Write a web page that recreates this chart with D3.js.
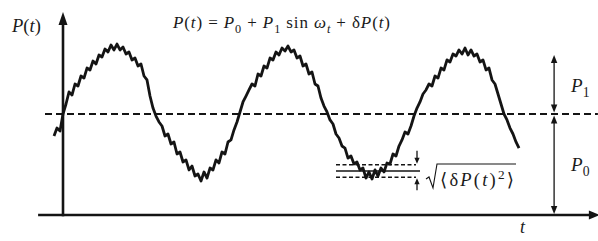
<!DOCTYPE html>
<html><head><meta charset="utf-8">
<script src="https://cdn.jsdelivr.net/npm/d3@7"></script>
<style>
html,body{margin:0;padding:0;background:#fff;}
svg{display:block;}
</style></head><body>
<svg id="chart" width="598" height="241"></svg>
<script>
// ---- data ----
const sampleStart = -3;   // time of first sample (arbitrary units)
const sampleStep = 1;
const pressure = [
  7.82, 8.61, 8.32, 10.00, 10.99, 12.18, 11.88, 12.97, 12.77, 13.76,
  13.56, 14.55, 14.36, 15.25, 14.95, 15.84, 15.64, 16.44, 16.14, 16.83,
  16.34, 16.93, 16.34, 16.63, 15.94, 16.14, 15.35, 15.54, 14.75, 14.95,
  13.76, 13.37, 11.78, 10.59, 9.80, 9.21, 8.81, 7.82, 8.02, 7.03,
  7.23, 6.04, 6.24, 5.25, 5.45, 4.46, 4.85, 3.86, 4.06, 3.37,
  4.26, 3.66, 4.65, 4.46, 5.45, 5.15, 6.24, 6.04, 7.23, 7.43,
  8.42, 9.21, 10.20, 11.19, 11.78, 12.38, 12.97, 12.77, 13.96, 13.76,
  14.75, 14.55, 15.54, 15.35, 16.14, 15.84, 16.53, 16.24, 16.73, 16.14,
  16.34, 15.54, 15.74, 14.75, 14.95, 13.96, 14.16, 12.97, 12.77, 11.58,
  10.79, 10.20, 9.41, 9.01, 8.02, 7.62, 6.83, 6.63, 5.64, 5.84,
  5.05, 5.25, 4.46, 4.65, 3.66, 4.26, 3.56, 4.46, 3.86, 4.65,
  4.26, 5.15, 5.05, 6.04, 5.84, 6.83, 7.43, 8.22, 8.02, 8.81,
  9.80, 10.59, 11.19, 11.98, 12.38, 12.97, 12.77, 13.76, 13.56, 14.55,
  14.36, 15.35, 15.15, 15.94, 15.74, 16.34, 15.94, 16.53, 15.84, 16.34,
  15.74, 15.94, 15.15, 15.35, 14.36, 14.55, 13.37, 12.97, 11.98, 10.99,
  10.00, 9.41, 8.61, 8.02, 7.23, 6.63
];
const P0 = 10;              // mean level (dashed line)
const P1 = 5.84;            // oscillation amplitude
const troughLevel = 4.36;   // level of the noise band
const noiseRms = 0.62;      // half width of the noise band
const bandTimes = [91, 119];
const ampArrowTime = 163.7;
const axisRange = { tMin: -8.3, tMax: 178.3, pMax: 20 };
const meanLineStart = -6;
const yLabel = [{t:"P",i:1},{t:"("},{t:"t",i:1},{t:")"}];
const xLabel = [{t:"t",i:1}];
const title = [{t:"P",i:1},{t:"("},{t:"t",i:1},{t:") = "},{t:"P",i:1},{t:"0",sub:1},{t:" + "},
  {t:"P",i:1},{t:"1",sub:1},{t:" sin "},{t:"ω",i:1},{t:"t",i:1,sub:1},{t:" + δ"},{t:"P",i:1},{t:"("},{t:"t",i:1},{t:")"}];
const p1Label = [{t:"P",i:1},{t:"1",sub:1}];
const p0Label = [{t:"P",i:1},{t:"0",sub:1}];
const rmsLabel = [{t:"⟨δ"},{t:"P",i:1},{t:"("},{t:"t",i:1},{t:")"},{t:"2",sup:1},{t:"⟩"}];

// ---- chart ----
const FONT = "'Liberation Serif', 'Times New Roman', Times, 'DejaVu Serif', 'Noto Serif', serif";
const svg = d3.select("#chart");
svg.append("rect").attr("width",598).attr("height",241).attr("fill","#fff");
const x = d3.scaleLinear().domain([0, 180]).range([63, 603]);
const y = d3.scaleLinear().domain([0, 10]).range([215, 114]);
const ink = "#141414";

const series = pressure.map((p, i) => ({ t: sampleStart + i * sampleStep, p }));

function rich(sel, px, py, parts, size, anchor, fitWidth) {
  const txt = sel.append("text").attr("x", px).attr("y", py)
    .attr("font-family", FONT).attr("fill", "#1a1a1a")
    .attr("font-size", size).attr("text-anchor", anchor || "start");
  let off = 0;
  parts.forEach(d => {
    let target = d.sub ? size * 0.3 : d.sup ? -size * 0.4 : 0;
    txt.append("tspan").text(d.t)
      .attr("dy", target - off)
      .attr("font-family", FONT)
      .attr("font-size", (d.sub || d.sup) ? size * 0.72 : size)
      .attr("font-style", d.i ? "italic" : "normal");
    off = target;
  });
  if (fitWidth) txt.attr("textLength", fitWidth).attr("lengthAdjust", "spacing");
  return txt;
}
function head(px, py, dir, len, hw) {
  let pts;
  if (dir === "up") pts = [[px,py],[px-hw,py+len],[px+hw,py+len]];
  else if (dir === "down") pts = [[px,py],[px-hw,py-len],[px+hw,py-len]];
  else pts = [[px,py],[px-len,py-hw],[px-len,py+hw]];
  svg.append("polygon").attr("points", pts.map(p => p.join(",")).join(" ")).attr("fill", ink);
}

// axes
svg.append("line").attr("x1", x(axisRange.tMin)).attr("x2", x(axisRange.tMax) - 6)
  .attr("y1", y(0)).attr("y2", y(0)).attr("stroke", ink).attr("stroke-width", 2.6);
head(x(axisRange.tMax) + 2, y(0), "right", 11, 4.5);
svg.append("line").attr("x1", x(0)).attr("x2", x(0))
  .attr("y1", y(0) + 1.3).attr("y2", y(axisRange.pMax) + 8).attr("stroke", ink).attr("stroke-width", 2.6);
head(x(0), y(axisRange.pMax) - 1, "up", 13, 4.5);

// mean line
svg.append("line").attr("x1", x(meanLineStart)).attr("x2", x(axisRange.tMax))
  .attr("y1", y(P0)).attr("y2", y(P0)).attr("stroke", ink).attr("stroke-width", 2)
  .attr("stroke-dasharray", "7,4");

// signal
svg.append("path").datum(series)
  .attr("d", d3.line().x(d => x(d.t)).y(d => y(d.p)))
  .attr("fill", "none").attr("stroke", ink).attr("stroke-width", 2.8)
  .attr("stroke-linejoin", "round");

// noise band
const bx1 = x(bandTimes[0]), bx2 = x(bandTimes[1]);
[[troughLevel + noiseRms, "4,2.5"], [troughLevel, null], [troughLevel - noiseRms, "4,2.5"]].forEach(([lv, dash]) => {
  const l = svg.append("line").attr("x1", bx1).attr("x2", bx2 + (dash ? -4 : 0))
    .attr("y1", y(lv)).attr("y2", y(lv)).attr("stroke", ink).attr("stroke-width", 1.4);
  if (dash) l.attr("stroke-dasharray", dash);
});
const ax = bx2 - 3;
svg.append("line").attr("x1", ax).attr("x2", ax).attr("y1", y(troughLevel + noiseRms) - 14)
  .attr("y2", y(troughLevel + noiseRms) - 4).attr("stroke", ink).attr("stroke-width", 1.3);
head(ax, y(troughLevel + noiseRms) - 1, "down", 6, 2.6);
svg.append("line").attr("x1", ax).attr("x2", ax).attr("y1", y(troughLevel - noiseRms) + 13)
  .attr("y2", y(troughLevel - noiseRms) + 4).attr("stroke", ink).attr("stroke-width", 1.3);
head(ax, y(troughLevel - noiseRms) + 1, "up", 6, 2.6);

// rms label with radical
const rx = bx2 + 6, ry = y(troughLevel) + 15;
const rmsWidth = 74;
rich(svg, rx + 14, ry, rmsLabel, 18.5, "start", rmsWidth);
svg.append("path")
  .attr("d", `M${rx},${ry - 7} L${rx + 3},${ry - 9} L${rx + 7},${ry + 2} L${rx + 11},${ry - 22} L${rx + 14 + rmsWidth + 2},${ry - 22}`)
  .attr("fill", "none").attr("stroke", ink).attr("stroke-width", 1.1);

// amplitude arrows
const axr = x(ampArrowTime);
svg.append("line").attr("x1", axr).attr("x2", axr).attr("y1", y(P0 + P1) + 6).attr("y2", y(P0) - 6)
  .attr("stroke", ink).attr("stroke-width", 1.3);
head(axr, y(P0 + P1), "up", 8, 3.2);
head(axr, y(P0) - 1.5, "down", 8, 3.2);
svg.append("line").attr("x1", axr).attr("x2", axr).attr("y1", y(P0) + 6).attr("y2", y(0) - 6)
  .attr("stroke", ink).attr("stroke-width", 1.3);
head(axr, y(P0) + 1.5, "up", 8, 3.2);
head(axr, y(0) - 1, "down", 8, 3.2);

// labels
rich(svg, axr + 17, (y(P0 + P1) + y(P0)) / 2 + 7, p1Label, 19);
rich(svg, axr + 17, (y(P0) + y(0)) / 2 + 6, p0Label, 19);
rich(svg, 12, 32, yLabel, 18.5);
rich(svg, 520, 233, xLabel, 18);
rich(svg, 173, 28, title, 17, "start", 217);
</script>
</body></html>
